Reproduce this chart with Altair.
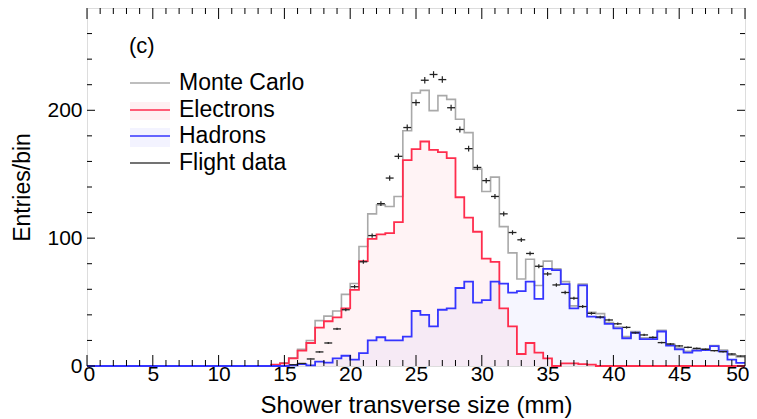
import altair as alt
import pandas as pd
import numpy as np

# ---------------- data ----------------
bin_width = 2.0 / 3.0   # mm
n_bins = 75             # 0 .. 50 mm

z21 = [0] * 21
monte_carlo = z21 + [1, 2.5, 6.5, 13, 20, 35.5, 39, 43, 56, 64.5, 93.5, 119, 126, 124.7, 132.6,
                     184, 213.5, 215.6, 199.7, 211.5, 208.5, 193, 182.5, 154, 136.5, 147.7, 109,
                     88.5, 68, 83.5, 63, 82, 76, 66, 47, 64, 42, 41, 34, 30.5, 23, 27, 22, 22, 28,
                     17, 14, 11.5, 13, 13.5, 16, 12.5, 8.5, 7]
electrons = z21 + [1, 2, 6, 12, 18, 30, 35, 38, 45, 59.5, 82, 99.5, 103, 104, 112.5,
                   161, 169.7, 175.6, 169, 167.3, 162.6, 132, 116, 105, 84, 81.5, 45,
                   31, 9.4, 18, 10.4, 6, 0, 2, 2, 1.5, 1] + [0] * 17
hadrons = z21 + [0, 0, 0.5, 1.5, 0.5, 3.4, 2.6, 6, 8, 5, 10, 20, 22.5, 20, 20,
                 23, 43, 40, 31, 44, 45, 61, 66, 49.5, 51.5, 66, 64.5,
                 57.4, 58.5, 66, 52.5, 76, 75, 64, 45, 63, 38.6, 38, 33, 29.5, 21.7, 26, 21, 21, 27,
                 16, 13, 10.5, 12, 12.5, 15.5, 11.5, 5, 2.4]
flight = z21 + [0, 0, 1, 2, 5.5, 11, 18, 29, 44, 62, 81.5, 102, 127, 147, 164,
                186.5, 206, 223.5, 228, 224, 202, 185, 170, 155.3, 145, 132.6, 119,
                104.4, 98.7, 88, 78, 72, 63.4, 57.5, 53, 46.5, 41.2, 38.3, 36, 33, 30.2, 26, 24.3, 22.4, 18.3,
                17.2, 15.7, 14.6, 13.8, 13, 12, 11.2, 9.4, 7.8]

x_major = [0, 5, 10, 15, 20, 25, 30, 35, 40, 45, 50]
x_minor = [v for v in range(0, 51) if v % 5 != 0]
y_major = [0, 100, 200]
y_minor = [20, 40, 60, 80, 120, 140, 160, 180, 220, 240, 260]

legend_labels = ["Monte Carlo", "Electrons", "Hadrons", "Flight data"]
legend_colors = ["#a9a9a9", "#ff2d4d", "#3535ff", "#444444"]

# ---------------- geometry / style ----------------
W, H = 658, 358
FONT = "Liberation Sans"
C_MC, C_EL, C_HA, C_DATA = legend_colors

edges = [i * bin_width for i in range(n_bins + 1)]


def step_df(vals):
    return pd.DataFrame({"x": edges, "y": list(vals) + [vals[-1]]})


xs = alt.Scale(domain=[0, 50], nice=False, zero=False)
ys = alt.Scale(domain=[0, 280], nice=False)
x_axis = alt.Axis(values=x_major, ticks=False, domain=False, grid=False, labelFontSize=21,
                  labelFont=FONT, labelPadding=-3, labelFlush=True, labelFlushOffset=4,
                  titleFontSize=24, titleFont=FONT,
                  titleFontWeight="normal", titlePadding=9, labelColor="black", titleColor="black")
y_axis = alt.Axis(values=y_major, ticks=False, domain=False, grid=False, labelFontSize=21,
                  labelFont=FONT, labelPadding=5, labelFlush=False, titleFontSize=23, titleFont=FONT,
                  titleFontWeight="normal", titlePadding=12, labelColor="black", titleColor="black")
XT = "Shower transverse size (mm)"
YT = "Entries/bin"


def X(f):
    return alt.X(f, type="quantitative", scale=xs, axis=x_axis, title=XT)


def Y(f):
    return alt.Y(f, type="quantitative", scale=ys, axis=y_axis, title=YT)


layers = []
# hatched fills approximated with light tints
layers.append(alt.Chart(step_df(electrons)).mark_area(interpolate="step-after", color=C_EL, opacity=0.06)
              .encode(x=X("x"), y=Y("y")))
layers.append(alt.Chart(step_df(hadrons)).mark_area(interpolate="step-after", color=C_HA, opacity=0.045)
              .encode(x=X("x"), y=Y("y")))
# step histograms
for vals, col, sw in [(monte_carlo, C_MC, 1.6), (electrons, C_EL, 1.8), (hadrons, C_HA, 1.8)]:
    layers.append(alt.Chart(step_df(vals)).mark_line(interpolate="step-after", color=col, strokeWidth=sw)
                  .encode(x=X("x"), y=Y("y")))

# flight data crosses
centers = [(i + 0.5) * bin_width for i in range(n_bins)]
fd = pd.DataFrame({"xc": centers, "v": flight})
fd = fd[fd["v"] > 0].copy()
fd["err"] = 0.17 * np.sqrt(fd["v"])
fd["lo"] = fd["v"] - fd["err"]
fd["hi"] = fd["v"] + fd["err"]
fd["xl"] = fd["xc"] - 0.3
fd["xr"] = fd["xc"] + 0.3
layers.append(alt.Chart(fd).mark_rule(color="#222222", strokeWidth=1.3)
              .encode(x=X("xl"), x2="xr", y=Y("v")))
layers.append(alt.Chart(fd).mark_rule(color="#222222", strokeWidth=1.2)
              .encode(x=X("xc"), y=Y("lo"), y2="hi"))

# inward ticks on all four sides
for vals, ln in [(x_major, 11), (x_minor, 6)]:
    d = pd.DataFrame({"t": vals})
    layers.append(alt.Chart(d).mark_rule(color="black", strokeWidth=1)
                  .encode(x=X("t"), y=alt.value(H), y2=alt.value(H - ln)))
    layers.append(alt.Chart(d).mark_rule(color="black", strokeWidth=1)
                  .encode(x=X("t"), y=alt.value(0), y2=alt.value(ln)))
for vals, ln in [(y_major, 8), (y_minor, 5)]:
    d = pd.DataFrame({"t": vals})
    layers.append(alt.Chart(d).mark_rule(color="black", strokeWidth=1)
                  .encode(y=Y("t"), x=alt.value(0), x2=alt.value(ln)))
    layers.append(alt.Chart(d).mark_rule(color="black", strokeWidth=1)
                  .encode(y=Y("t"), x=alt.value(W), x2=alt.value(W - ln)))

one = pd.DataFrame({"a": [0]})
# panel label
layers.append(alt.Chart(one).mark_text(text="(c)", align="left", baseline="middle", fontSize=22,
                                       font=FONT, color="black")
              .encode(x=alt.value(42), y=alt.value(38)))

# legend
leg_y = [75, 102, 128, 155]
# hatched boxes behind electron / hadron samples
layers.append(alt.Chart(one).mark_rect(color=C_EL, opacity=0.07)
              .encode(x=alt.value(43), x2=alt.value(83), y=alt.value(94), y2=alt.value(112)))
layers.append(alt.Chart(one).mark_rect(color=C_HA, opacity=0.06)
              .encode(x=alt.value(43), x2=alt.value(83), y=alt.value(120), y2=alt.value(139)))
for lab, col, yy in zip(legend_labels, legend_colors, leg_y):
    layers.append(alt.Chart(one).mark_rule(color=col, strokeWidth=1.6)
                  .encode(x=alt.value(43), x2=alt.value(83), y=alt.value(yy)))
    layers.append(alt.Chart(pd.DataFrame({"lab": [lab]})).mark_text(align="left", baseline="middle",
                                                                     fontSize=23, font=FONT, color="black")
                  .encode(text="lab:N", x=alt.value(92), y=alt.value(yy)))

chart = (alt.layer(*layers)
         .properties(width=W, height=H,
                     autosize=alt.AutoSizeParams(type="none"),
                     padding={"left": 79, "top": 0, "right": 4, "bottom": 53})
         .configure_view(stroke="black", strokeWidth=1.2)
         .configure(font=FONT))

chart.save("out.html", embed_options={"renderer": "svg", "actions": False})
